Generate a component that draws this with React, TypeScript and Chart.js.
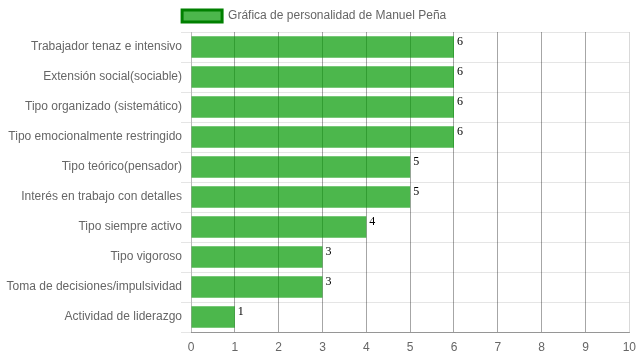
import React, { useEffect, useRef } from "react";
import { Chart, registerables } from "chart.js";

Chart.register(...registerables);

const categories = [
  "Trabajador tenaz e intensivo",
  "Extensión social(sociable)",
  "Tipo organizado (sistemático)",
  "Tipo emocionalmente restringido",
  "Tipo teórico(pensador)",
  "Interés en trabajo con detalles",
  "Tipo siempre activo",
  "Tipo vigoroso",
  "Toma de decisiones/impulsividad",
  "Actividad de liderazgo",
];
const values = [6, 6, 6, 6, 5, 5, 4, 3, 3, 1];
const seriesName = "Gráfica de personalidad de Manuel Peña";
const xTicks = [0, 1, 2, 3, 4, 5, 6, 7, 8, 9, 10];

const FONT = '"Liberation Sans", Arial, sans-serif';

const valueLabels = {
  id: "valueLabels",
  afterDatasetsDraw(chart: any) {
    const ctx = chart.ctx;
    const meta = chart.getDatasetMeta(0);
    ctx.save();
    ctx.font = '12px "Liberation Serif", "Times New Roman", serif';
    ctx.fillStyle = "#000";
    ctx.textAlign = "left";
    ctx.textBaseline = "top";
    meta.data.forEach((bar: any, i: number) => {
      const h = bar.height;
      ctx.fillText(String(values[i]), bar.x + 3, bar.y - h / 2);
    });
    ctx.restore();
  },
};

export default function App() {
  const ref = useRef<HTMLCanvasElement>(null);
  useEffect(() => {
    document.body.style.margin = "0";
    const chart = new Chart(ref.current!, {
      type: "bar",
      data: {
        labels: categories,
        datasets: [
          {
            label: seriesName,
            data: values,
            backgroundColor: "rgba(0,153,0,0.7)",
            borderColor: "rgb(0,128,0)",
            borderWidth: 0,
          },
        ],
      },
      options: {
        indexAxis: "y",
        animation: false,
        responsive: false,
        layout: { padding: { right: 4, top: 0, bottom: 0, left: 0 } },
        font: { family: FONT, size: 12 },
        plugins: {
          tooltip: { enabled: false },
          legend: {
            labels: {
              color: "#666",
              boxWidth: 40,
              boxHeight: 12,
              font: { family: FONT, size: 12 },
              generateLabels: () => [
                {
                  text: seriesName + "  ",
                  fillStyle: "rgba(0,153,0,0.7)",
                  strokeStyle: "rgb(0,128,0)",
                  lineWidth: 3,
                  datasetIndex: 0,
                  fontColor: "#666",
                },
              ],
            },
          },
        },
        scales: {
          x: {
            min: 0,
            max: 10,
            afterFit: (s: any) => {
              s.height = 28;
            },
            ticks: {
              stepSize: 1,
              color: "#666",
              padding: 3,
              font: { family: FONT, size: 12 },
              callback: (v: any) => (xTicks.includes(v) ? String(v) : ""),
            },
            grid: {
              tickLength: 5,
              tickColor: "rgba(0,0,0,0)",
              color: (c: any) =>
                c.index === 0 || c.index === xTicks.length - 1
                  ? "rgba(0,0,0,0.15)"
                  : "rgba(0,0,0,0.35)",
            },
            border: { color: "rgba(0,0,0,0.35)" },
          },
          y: {
            afterFit: (s: any) => {
              s.width = 191;
            },
            ticks: {
              color: "#666",
              padding: -1,
              font: { family: FONT, size: 12 },
            },
            grid: { color: "rgba(0,0,0,0.1)", tickLength: 10 },
            border: { color: "rgba(0,0,0,0.15)" },
          },
        },
      },
      plugins: [valueLabels],
    });
    return () => chart.destroy();
  }, []);
  return <canvas ref={ref} width={639} height={360} style={{ display: "block" }} />;
}
